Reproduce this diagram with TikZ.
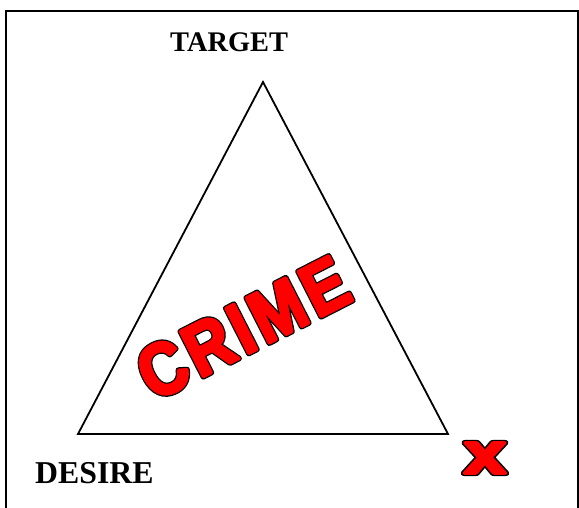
\documentclass[tikz,border=0pt]{standalone}
\usepackage{fontspec}
\setmainfont{Liberation Serif}
\newfontfamily\crimefont[FakeStretch=0.86,LetterSpace=7]{Liberation Sans}
\usepackage{tikz}
\usetikzlibrary{positioning}
\definecolor{CrimeRed}{RGB}{255,0,0}
% heavy outlined lettering: a fat black-edged layer, then a red layer over it
\newcommand{\outlined}[1]{%
  \rlap{\special{pdf:literal direct 0 0 0 RG 2 Tr 1 j 5.5 w}#1}%
  \special{pdf:literal direct 1 0 0 RG 2 Tr 1 j 3 w}#1\special{pdf:literal direct 0 Tr 0 j}}
\tikzset{
  cornerlabel/.style={inner sep=0pt,anchor=base west,font=\bfseries\fontsize{30}{30}\selectfont},
  frameline/.style={line width=2.4pt,draw=black},
  triside/.style={line width=1.8pt,draw=black,line join=miter},
  crimeword/.style={inner sep=0pt,text=CrimeRed,font=\crimefont\bfseries\fontsize{74}{74}\selectfont},
  markx/.style={inner sep=0pt,text=CrimeRed,font=\sffamily\bfseries\fontsize{58}{58}\selectfont}
}

\begin{document}
\begin{tikzpicture}[x=1pt,y=-1pt]
\useasboundingbox (0,0) rectangle (579,508);

% frame, open at the bottom
\coordinate (fbl) at (6,508);
\coordinate (ftl) at (6,11);
\coordinate (ftr) at (578,11);
\coordinate (fbr) at (578,508);
\draw[frameline] (fbl) -- (ftl) -- (ftr) -- (fbr);

% the triangle
\coordinate (apex) at (263,82);
\coordinate (lc) at (78,434);
\coordinate (rc) at (448,434);
\draw[triside] (apex) -- (lc) -- (rc) -- cycle;

\node[cornerlabel,font=\bfseries\fontsize{28.4}{28.4}\selectfont] (target) at (170,52) {TARGET};
\node[cornerlabel,font=\bfseries\fontsize{31.8}{31.8}\selectfont] (desire) at (35,483) {DESIRE};

\node[crimeword,rotate=27] (crime) at (243,328) {\outlined{CRIME}};
\node[markx,xscale=1.5] (xmark) at (485,458) {\crimefont\addfontfeature{LetterSpace=0}\outlined{x}};
\end{tikzpicture}
\end{document}
